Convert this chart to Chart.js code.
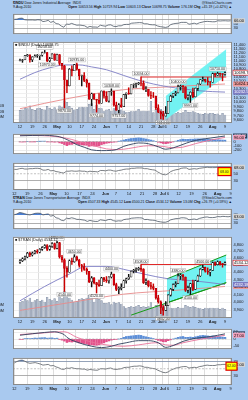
<!DOCTYPE html>
<html><head><meta charset="utf-8">
<script src="https://cdn.jsdelivr.net/npm/chart.js@4.4.0/dist/chart.umd.min.js"></script>
<style>
html,body{margin:0;padding:0;}
body{width:248px;height:400px;overflow:hidden;background:#a9c9ef;position:relative;font-family:"Liberation Sans",Arial,sans-serif;}
canvas{position:absolute;left:0;}
.t{position:absolute;white-space:nowrap;font-size:3.5px;line-height:4px;color:#111;}
</style></head><body>
<div class="t" style="left:13px;top:0.5px"><b>$INDU</b> Dow Jones Industrial Average&nbsp; INDX</div>
<div class="t" style="right:16px;top:0.5px">@StockCharts.com</div>
<div class="t" style="left:13px;top:5px">9-Aug-2010</div>
<div class="t" style="right:16px;top:5px"><b>Open</b> 10653.56 <b>High</b> 10719.94 <b>Low</b> 10603.13 <b>Close</b> 10698.75 <b>Volume</b> 176.1M <b>Chg</b> +45.19 (+0.42%) ▲</div>
<div class="t" style="left:13px;top:195.5px"><b>$TRAN</b> Dow Jones Transportation Average&nbsp; INDX</div>
<div class="t" style="right:16px;top:195.5px">@StockCharts.com</div>
<div class="t" style="left:13px;top:200px">9-Aug-2010</div>
<div class="t" style="right:16px;top:200px"><b>Open</b> 4507.33 <b>High</b> 4545.12 <b>Low</b> 4500.21 <b>Close</b> 4534.12 <b>Volume</b> 13.0M <b>Chg</b> +26.79 (+0.59%) ▲</div>
<script>
// ---------- categories / tick labels ----------
const dates = ['Apr 12','Apr 13','Apr 14','Apr 15','Apr 16','Apr 19','Apr 20','Apr 21','Apr 22','Apr 23','Apr 26','Apr 27','Apr 28','Apr 29','Apr 30','May 3','May 4','May 5','May 6','May 7','May 10','May 11','May 12','May 13','May 14','May 17','May 18','May 19','May 20','May 21','May 24','May 25','May 26','May 27','May 28','Jun 1','Jun 2','Jun 3','Jun 4','Jun 7','Jun 8','Jun 9','Jun 10','Jun 11','Jun 14','Jun 15','Jun 16','Jun 17','Jun 18','Jun 21','Jun 22','Jun 23','Jun 24','Jun 25','Jun 28','Jun 29','Jun 30','Jul 1','Jul 2','Jul 6','Jul 7','Jul 8','Jul 9','Jul 12','Jul 13','Jul 14','Jul 15','Jul 16','Jul 19','Jul 20','Jul 21','Jul 22','Jul 23','Jul 26','Jul 27','Jul 28','Jul 29','Jul 30','Aug 2','Aug 3','Aug 4','Aug 5','Aug 6','Aug 9'];
const xTickIdx  = [0,5,10,15,20,25,30,35,39,44,49,54,57,59,63,68,73,78,83];
const xTickText = ['12','19','26','May','10','17','24','Jun','7','14','21','28','Jul','6','12','19','26','Aug','9'];

// ---------- $INDU ----------
const induOpen  = [10997,11006,11019,11123,11145,11019,11092,11117,11125,11134,11204,11205,10992,11045,11167,11009,11152,10927,10868,10520,10380,10785,10748,10897,10783,10620,10626,10511,10444,10068,10193,10067,10044,9974,10259,10137,10024,10250,10255,9932,9816,9940,9899,10173,10211,10191,10405,10409,10434,10451,10442,10294,10298,10153,10144,10139,9870,9774,9733,9686,9744,10018,10139,10198,10216,10363,10367,10359,10098,10154,10230,10121,10322,10425,10525,10538,10498,10467,10466,10674,10636,10680,10675,10654];
const induHigh  = [11034,11030,11124,11155,11147,11096,11143,11153,11140,11218,11258,11206,11080,11175,11171,11166,11152,10927,10879,10520,10800,10870,10905,10935,10783,10640,10700,10540,10444,10210,10194,10067,10200,10260,10260,10240,10252,10308,10255,10000,9967,10090,10173,10213,10335,10405,10428,10445,10462,10594,10500,10360,10298,10245,10224,10139,9940,9800,9790,9900,10018,10160,10200,10250,10400,10400,10390,10359,10170,10240,10330,10330,10430,10530,10590,10545,10580,10490,10690,10690,10710,10690,10675,10720];
const induLow   = [10990,10955,11019,11105,10960,10973,11092,11080,11022,11110,11190,10970,10965,11045,11005,11009,10887,10780,9870,10221,10380,10620,10748,10760,10530,10380,10480,10350,10060,9920,10060,9774,9960,9974,10093,10010,10000,10156,9910,9814,9757,9880,9899,10080,10180,10190,10335,10340,10410,10380,10285,10240,10135,10080,10105,9835,9760,9622,9614,9686,9744,10018,10100,10150,10216,10280,10220,10075,10050,9991,10100,10121,10270,10410,10490,10470,10400,10350,10466,10600,10630,10610,10500,10640];
const induClose = [11006,11019,11123,11145,11019,11092,11117,11125,11134,11204,11205,10992,11045,11167,11009,11152,10927,10868,10520,10380,10785,10748,10897,10783,10620,10626,10511,10444,10068,10193,10067,10044,9974,10259,10137,10024,10250,10255,9932,9816,9940,9899,10173,10211,10191,10405,10409,10434,10451,10442,10294,10298,10153,10144,10139,9870,9774,9733,9686,9744,10018,10139,10198,10216,10363,10367,10359,10098,10154,10230,10121,10322,10425,10525,10538,10498,10467,10466,10674,10636,10680,10675,10654,10699];
const induVolume = [1100,1150,1300,1250,1500,1200,1100,1250,1300,1200,1150,1450,1300,1200,1350,1150,1500,1400,1950,1800,1450,1300,1150,1200,1350,1400,1350,1400,1650,1700,1200,1550,1300,1250,1000,1150,1200,1050,1250,1150,1250,1150,1050,900,950,1000,1000,1050,1200,1000,1050,1000,1050,1900,900,1200,1150,1200,1050,900,950,900,800,850,950,850,900,1100,950,950,1000,900,850,800,750,850,800,850,850,750,800,700,850,700];
const induMa50Idx  = [0,6,12,18,24,29,35,42,48,54,60,66,72,78,83];
const induMa50     = [10538,10700,10817,10889,10889,10841,10770,10630,10515,10424,10356,10311,10266,10244,10233];
const induMa200Idx = [0,20,42,60,83];
const induMa200    = [9850,10089,10289,10356,10424];
const induRsi = [73,74,78,79,71,70,70,70,69,71,70,62,64,68,58,63,52,50,40,34,50,48,53,48,44,45,43,41,33,38,35,35,34,44,41,39,45,46,39,37,41,41,47,48,48,54,55,56,57,56,51,51,47,46,46,40,37,35,33,36,47,51,53,54,58,58,58,49,51,54,50,56,59,62,63,62,61,61,66,65,66,66,65,66];
const induMacdIdx = [0,5,10,14,16,18,20,23,26,29,33,37,39,42,46,48,50,52,56,59,62,66,69,73,77,81,83];
const induMacd    = [133,140,144,128,110,70,20,-70,-130,-190,-208,-203,-185,-110,-50,-32,-35,-50,-120,-176,-145,-64,-5,48,80,112,128];
const induSigIdx  = [0,6,12,17,21,25,29,35,40,44,48,52,55,58,62,66,71,77,83];
const induSig     = [144,140,128,95,48,-20,-80,-168,-184,-160,-120,-96,-98,-112,-144,-128,-48,32,96];
const induHist = [-10,-12,-5,0,-8,-5,-2,0,2,8,10,-5,-8,-2,-15,-8,-30,-45,-70,-95,-70,-65,-50,-55,-70,-75,-80,-85,-110,-100,-105,-105,-100,-70,-55,-40,-30,-20,-15,-8,5,20,35,50,60,70,75,80,85,80,70,60,46,35,20,0,-15,-30,-45,-50,-40,-25,-5,10,30,45,55,50,50,55,55,60,62,62,60,55,50,48,50,45,42,38,35,32];
const induLower = [62,62,64,65,63,63,64,64,65,65,64,60,60,62,58,59,56,55,53,52,57,57,58,57,57,58,57,57,55,57,56,56,55,59,59,58,60,60,58,57,59,60,62,63,63,65,65,66,66,66,64,64,62,61,60,55,51,48,47,50,56,59,61,62,65,66,66,62,63,64,63,65,66,67,68,67,67,67,68,68,68,68,68,68];
const induPriceTicks = [9600,9700,9800,9900,10000,10100,10200,10300,10400,10500,10600,10700,10800,10900,11000,11100,11200,11300,11400];
const induVolTicks = [500,1000,1500];
const induResist = 10594;
const induChanIdx = [59,83.5];
const induChanUp  = [10133,11280];
const induChanLo  = [9614,10630];
const induNotesIdx  = [10,11,18,23,31,37,40,49,58,64,69,80];
const induNotesSide = ['H','L','L','H','L','H','L','H','L','H','L','H'];

// ---------- $TRAN ----------
const tranOpen  = [4540,4562,4590,4617,4673,4645,4673,4702,4687,4730,4758,4787,4730,4773,4816,4744,4831,4617,4576,4453,4400,4562,4548,4617,4576,4494,4480,4440,4413,4269,4321,4257,4231,4218,4321,4295,4282,4334,4373,4231,4168,4180,4193,4282,4308,4334,4413,4426,4440,4453,4440,4257,4282,4218,4206,4180,4056,4007,3935,3900,3959,4093,4168,4231,4244,4347,4360,4334,4155,4193,4244,4168,4282,4347,4440,4467,4413,4400,4426,4534,4507,4548,4520,4507];
const tranHigh  = [4580,4605,4630,4685,4690,4690,4715,4725,4740,4770,4800,4800,4785,4830,4825,4850,4835,4640,4590,4480,4575,4600,4650,4630,4580,4510,4520,4460,4413,4340,4325,4260,4290,4330,4330,4340,4340,4400,4373,4250,4200,4240,4290,4320,4370,4420,4440,4460,4470,4508,4450,4310,4282,4260,4240,4180,4090,4020,3960,4010,4100,4180,4240,4270,4380,4375,4370,4334,4210,4250,4290,4290,4360,4450,4500,4470,4460,4440,4545,4545,4560,4555,4525,4545];
const tranLow   = [4525,4550,4575,4605,4620,4630,4660,4670,4675,4715,4745,4710,4715,4760,4730,4735,4600,4540,4140,4330,4400,4510,4540,4560,4470,4410,4425,4370,4255,4200,4240,4120,4205,4218,4270,4260,4250,4320,4220,4150,4110,4160,4193,4250,4300,4334,4390,4400,4425,4410,4245,4230,4200,4170,4160,4040,3990,3860,3842,3900,3959,4080,4150,4200,4244,4300,4290,4140,4120,4100,4150,4168,4270,4340,4430,4400,4370,4350,4426,4490,4500,4500,4470,4500];
const tranClose = [4562,4590,4617,4673,4645,4673,4702,4687,4730,4758,4787,4730,4773,4816,4744,4831,4617,4576,4453,4400,4562,4548,4617,4576,4494,4480,4440,4413,4269,4321,4257,4231,4218,4321,4295,4282,4334,4373,4231,4168,4180,4193,4282,4308,4334,4413,4426,4440,4453,4440,4257,4282,4218,4206,4180,4056,4007,3935,3900,3959,4093,4168,4231,4244,4347,4360,4334,4155,4193,4244,4168,4282,4347,4440,4467,4413,4400,4426,4534,4507,4548,4520,4507,4534];
const tranVolume = [230,250,280,260,300,240,260,280,250,270,240,310,280,260,290,250,320,290,400,360,300,270,240,250,280,290,280,300,340,350,240,320,280,260,220,220,230,200,240,220,230,210,170,150,160,170,160,170,190,160,170,160,170,230,150,190,190,200,210,160,170,150,140,150,160,150,150,190,170,160,170,160,150,140,130,150,140,150,150,140,150,130,150,130];
const tranMa50Idx  = [0,10,20,27,35,42,50,60,70,83];
const tranMa50     = [4020,4206,4375,4481,4481,4440,4375,4309,4283,4232];
const tranMa200Idx = [0,20,42,63,83];
const tranMa200    = [3900,3996,4105,4155,4206];
const tranRsi = [71,75,82,80,76,72,70,74,78,79,78,70,73,75,64,68,56,53,44,42,54,52,56,53,48,48,46,44,38,43,40,38,38,46,44,42,47,48,42,39,41,40,47,49,50,54,55,56,56,55,47,48,45,44,43,38,36,34,34,38,46,49,52,52,56,56,54,46,48,50,47,53,56,59,60,57,57,58,62,61,63,62,61,63];
const tranMacdIdx = [0,5,10,14,16,18,19,23,29,33,37,40,43,48,52,56,59,62,66,71,77,83];
const tranMacd    = [27,38,47,52,45,30,12,-22,-52,-62,-52,-37,-27,-12,-12,-27,-60,-47,-17,5,17,37];
const tranSigIdx  = [0,7,14,18,23,30,37,42,48,55,59,62,66,73,83];
const tranSig     = [32,40,50,52,12,-27,-47,-52,-42,-27,-42,-45,-27,-2,27];
const tranHist = [-3,-2,2,5,3,5,7,6,8,9,10,6,7,8,5,6,-2,-8,-15,-25,-20,-22,-18,-22,-28,-30,-33,-36,-45,-42,-44,-45,-42,-32,-28,-20,-14,-8,-5,-2,0,5,12,18,20,22,24,26,28,26,20,16,12,8,4,-4,-10,-15,-20,-20,-12,-6,0,6,12,16,18,12,12,14,12,16,20,24,26,24,22,20,22,20,18,16,14,12];
const tranLower = [66,70,73,74,71,67,65,66,67,65,63,60,61,62,58,59,55,53,49,48,52,51,53,51,50,50,49,49,46,48,47,46,46,50,50,49,51,52,49,48,49,50,53,54,54,56,57,57,58,57,54,54,52,51,50,46,43,40,39,41,46,49,52,53,55,56,56,52,53,54,53,56,57,59,60,59,59,59,61,61,62,62,61,62];
const tranPriceTicks = [3900,4000,4100,4200,4300,4400,4500,4600,4700,4800];
const tranVolTicks = [100,200];
const tranResist = 4508;
const tranChanIdx = [59.5,83.5];
const tranChanUp  = [4308,4645];
const tranChanLo  = [3995,4257];
const tranTrendIdx = [45,83.5];
const tranTrendLo  = [3842,4257];
const tranNotesIdx  = [15,18,22,31,37,49,58,64,69,74];
const tranNotesSide = ['H','L','H','L','H','H','L','H','L','H'];

// ---------- helpers ----------
const FONT = '"Liberation Sans", Arial, sans-serif';
const N = dates.length;
const pts = (idx, vals) => idx.map((x, k) => ({x, y: vals[k]}));
const series = vals => vals.map((y, x) => ({x, y}));

function mkCanvas(top, h) {
  const c = document.createElement('canvas');
  c.width = 248; c.height = h; c.style.top = top + 'px';
  document.body.appendChild(c);
  return c;
}
function xCfg(show) {
  return {
    type: 'linear', min: -0.5, max: N - 0.5, bounds: 'data',
    afterBuildTicks: s => { s.ticks = xTickIdx.map(v => ({value: v})); },
    grid: {color: '#d6d6d6', lineWidth: 0.8, drawTicks: false},
    border: {display: false},
    ticks: {
      display: show, autoSkip: false, maxRotation: 0, minRotation: 0, padding: 1.5, color: '#1a1a1a',
      font: c => {
        const k = xTickIdx.indexOf(c.tick ? c.tick.value : -1);
        const t = k >= 0 ? xTickText[k] : '';
        return {size: 4, family: FONT, weight: /[A-Za-z]/.test(t) ? 'bold' : 'normal'};
      },
      callback: v => { const k = xTickIdx.indexOf(v); return k >= 0 ? xTickText[k] : ''; }
    },
    afterFit: s => { s.height = show ? 7 : 0; }
  };
}
function yRight(extra) {
  const base = {
    position: 'right', bounds: 'data',
    grid: {color: '#e6e6e6', lineWidth: 0.8, drawTicks: false},
    border: {display: false},
    ticks: {autoSkip: false, padding: 1.5, color: '#1a1a1a', font: {size: 4, family: FONT}},
    afterFit: s => { s.width = 16; }
  };
  return Object.assign(base, extra);
}
function opts(scales, padLeft) {
  return {
    responsive: false, animation: false, events: [], devicePixelRatio: 1,
    layout: {padding: {left: padLeft, right: 0, top: 0, bottom: 0}},
    plugins: {legend: {display: false}, tooltip: {enabled: false}},
    scales
  };
}
const frame = {
  id: 'frame',
  beforeDraw(ch) {
    const a = ch.chartArea, ctx = ch.ctx;
    ctx.save(); ctx.fillStyle = '#ffffff';
    ctx.fillRect(a.left, a.top, a.right - a.left, a.bottom - a.top); ctx.restore();
  },
  afterDraw(ch) {
    const a = ch.chartArea, ctx = ch.ctx;
    ctx.save(); ctx.strokeStyle = '#8a8a8a'; ctx.lineWidth = 1;
    ctx.strokeRect(a.left + 0.5, a.top + 0.5, a.right - a.left - 1, a.bottom - a.top - 1); ctx.restore();
  }
};
function tagsPlugin(axisId, tags) {
  return {
    id: 'tags',
    afterDraw(ch) {
      const s = ch.scales[axisId], a = ch.chartArea, ctx = ch.ctx;
      ctx.save(); ctx.font = '4px ' + FONT; ctx.textBaseline = 'middle';
      tags.forEach(t => {
        const y = s.getPixelForValue(t.value);
        const w = ctx.measureText(t.text).width + 2;
        ctx.fillStyle = t.bg; ctx.fillRect(a.right + 1, y - 2.5, w, 5);
        if (t.border) { ctx.strokeStyle = t.border; ctx.lineWidth = 0.6; ctx.strokeRect(a.right + 1, y - 2.5, w, 5); }
        ctx.fillStyle = t.fg; ctx.fillText(t.text, a.right + 2, y + 0.3);
      });
      ctx.restore();
    }
  };
}
function notesPlugin(idx, side, hi, lo) {
  return {
    id: 'notes',
    afterDatasetsDraw(ch) {
      const xs = ch.scales.x, ys = ch.scales.y, ctx = ch.ctx;
      ctx.save(); ctx.font = '3.6px ' + FONT; ctx.textAlign = 'center'; ctx.textBaseline = 'middle';
      idx.forEach((i, k) => {
        const v = side[k] === 'H' ? hi[i] : lo[i];
        const x = xs.getPixelForValue(i);
        const y = ys.getPixelForValue(v) + (side[k] === 'H' ? -3.2 : 3.2);
        const txt = v.toFixed(2);
        const w = ctx.measureText(txt).width + 2;
        ctx.fillStyle = 'rgba(255,255,255,0.9)'; ctx.fillRect(x - w / 2, y - 2, w, 4);
        ctx.strokeStyle = '#9a9a9a'; ctx.lineWidth = 0.4; ctx.strokeRect(x - w / 2, y - 2, w, 4);
        ctx.fillStyle = '#222'; ctx.fillText(txt, x, y + 0.2);
      });
      ctx.restore();
    }
  };
}
function legendPlugin(text) {
  return {
    id: 'plegend',
    afterDraw(ch) {
      const a = ch.chartArea, ctx = ch.ctx;
      ctx.save(); ctx.font = '3.8px ' + FONT; ctx.textBaseline = 'top';
      ctx.fillStyle = '#222'; ctx.fillText(text, a.left + 2, a.top + 1.5);
      ctx.restore();
    }
  };
}
function boxPlugin(value, text, dx0, dx1) {
  return {
    id: 'ybox',
    afterDraw(ch) {
      const a = ch.chartArea, ys = ch.scales.y, ctx = ch.ctx;
      const y = ys.getPixelForValue(value);
      const x0 = a.right + dx0, x1 = a.right + dx1;
      ctx.save();
      ctx.fillStyle = '#ffff00'; ctx.fillRect(x0, y - 4, x1 - x0, 8);
      ctx.strokeStyle = '#e00000'; ctx.lineWidth = 1.2; ctx.strokeRect(x0, y - 4, x1 - x0, 8);
      ctx.fillStyle = '#222'; ctx.font = '3.3px ' + FONT; ctx.textAlign = 'center'; ctx.textBaseline = 'middle';
      ctx.fillText(text, (x0 + x1) / 2, y + 0.2);
      ctx.restore();
    }
  };
}

function buildGroup(g) {
  const T = g.top;
  // ---- upper indicator (RSI) ----
  new Chart(mkCanvas(T + 10, 28), {
    type: 'line',
    data: {datasets: [{
      data: series(g.rsi), borderColor: '#4d5866', borderWidth: 0.8, pointRadius: 0,
      fill: {target: {value: 70}, above: '#4a7fd6', below: 'rgba(0,0,0,0)'}
    }]},
    options: opts({
      x: xCfg(false),
      y: yRight({min: 0, max: 100,
        afterBuildTicks: s => { s.ticks = [30, 50, 70].map(v => ({value: v})); },
        grid: {color: c => (c.tick && c.tick.value === 50) ? '#e4e4e4' : '#9a9a9a', lineWidth: 0.8, drawTicks: false}})
    }, 13),
    plugins: [frame, tagsPlugin('y', [{value: g.rsi[N - 1], text: g.rsi[N - 1].toFixed(2), bg: '#d4d4d4', fg: '#000'}])]
  });

  // ---- price panel ----
  const up = g.close.map((c, i) => c >= g.open[i]);
  const ds = [
    {type: 'bar', data: series(g.volume), yAxisID: 'vol', backgroundColor: '#b4bdcc', borderColor: '#7a869c', borderWidth: 0.4, borderSkipped: false, barThickness: 1.8, grouped: false, order: 10},
    {type: 'line', data: pts(g.chanIdx, g.chanUp), yAxisID: 'y', borderColor: g.chanEdge, borderWidth: g.chanEdgeW, pointRadius: 0, fill: false, order: 8},
    {type: 'line', data: pts(g.chanIdx, g.chanLo), yAxisID: 'y', borderColor: g.chanEdge, borderWidth: g.chanEdgeW, pointRadius: 0, fill: '-1', backgroundColor: '#72f2f2', order: 8}
  ];
  if (g.trendIdx) {
    ds.push({type: 'line', data: pts(g.trendIdx, g.trendLo), yAxisID: 'y', borderColor: '#159a15', borderWidth: 1, pointRadius: 0, order: 7});
  }
  ds.push(
    {type: 'line', data: pts(g.ma200Idx, g.ma200), yAxisID: 'y', borderColor: '#e88a8a', borderWidth: 0.9, pointRadius: 0, cubicInterpolationMode: 'monotone', order: 6},
    {type: 'line', data: pts(g.ma50Idx, g.ma50), yAxisID: 'y', borderColor: '#7d7dc4', borderWidth: 0.9, pointRadius: 0, cubicInterpolationMode: 'monotone', order: 5},
    {type: 'line', data: [{x: g.resistFrom, y: g.resist}, {x: N - 0.5, y: g.resist}], yAxisID: 'y', borderColor: '#e02828', borderWidth: 1.1, pointRadius: 0, order: 4},
    {type: 'bar', data: g.open.map((o, i) => ({x: i, y: [g.low[i], g.high[i]]})), yAxisID: 'y', backgroundColor: up.map(u => u ? '#111' : '#cc0000'), borderWidth: 0, barThickness: 0.8, grouped: false, order: 2},
    {type: 'bar', data: g.open.map((o, i) => ({x: i, y: [o, g.close[i]]})), yAxisID: 'y', backgroundColor: up.map(u => u ? '#ffffff' : '#e00012'), borderColor: up.map(u => u ? '#111' : '#b00000'), borderWidth: 0.6, borderSkipped: false, barThickness: 1.9, grouped: false, order: 1}
  );
  new Chart(mkCanvas(T + 38, 92), {
    type: 'bar',
    data: {datasets: ds},
    options: opts({
      x: xCfg(true),
      y: yRight({type: 'logarithmic', min: g.pMin, max: g.pMax,
        afterBuildTicks: s => { s.ticks = g.priceTicks.map(v => ({value: v})); },
        ticks: {autoSkip: false, padding: 1.5, color: '#1a1a1a', font: {size: 4, family: FONT}, callback: v => Number(v).toLocaleString('en-US')},
        grid: {color: '#ececec', lineWidth: 0.8, drawTicks: false}}),
      vol: {type: 'linear', position: 'left', min: 0, max: g.volMax, bounds: 'data',
        afterBuildTicks: s => { s.ticks = g.volTicks.map(v => ({value: v})); },
        ticks: {autoSkip: false, padding: 1, color: '#1a1a1a', font: {size: 3.8, family: FONT}, callback: g.volFmt},
        grid: {display: false}, border: {display: false},
        afterFit: s => { s.width = 13; }}
    }, 0),
    plugins: [frame, notesPlugin(g.notesIdx, g.notesSide, g.high, g.low), legendPlugin(g.legend), tagsPlugin('y', g.priceTags)]
  });

  // ---- MACD ----
  new Chart(mkCanvas(T + 130, 28), {
    type: 'bar',
    data: {datasets: [
      {type: 'bar', data: series(g.hist), backgroundColor: g.hist.map(v => v >= 0 ? '#5b8ed8' : '#e2508a'), barThickness: 1.8, grouped: false, order: 4},
      {type: 'line', data: [{x: -0.5, y: 0}, {x: N - 0.5, y: 0}], borderColor: '#9a9a9a', borderDash: [2, 1.5], borderWidth: 0.6, pointRadius: 0, order: 3},
      {type: 'line', data: pts(g.sigIdx, g.sig), borderColor: '#e8739a', borderWidth: 0.9, pointRadius: 0, cubicInterpolationMode: 'monotone', order: 2},
      {type: 'line', data: pts(g.macdIdx, g.macd), borderColor: '#2e3f5c', borderWidth: 0.9, pointRadius: 0, cubicInterpolationMode: 'monotone', order: 1}
    ]},
    options: opts({
      x: xCfg(false),
      y: yRight({min: g.mMin, max: g.mMax,
        afterBuildTicks: s => { s.ticks = g.mTicks.map(v => ({value: v})); }})
    }, 13),
    plugins: [frame, tagsPlugin('y', [
      {value: g.macd[g.macd.length - 1], text: g.macd[g.macd.length - 1].toFixed(2), bg: '#2e3f5c', fg: '#fff'},
      {value: g.sig[g.sig.length - 1], text: g.sig[g.sig.length - 1].toFixed(2), bg: '#f2a2bd', fg: '#000'}])]
  });

  // ---- lower indicator ----
  new Chart(mkCanvas(T + 159, 38), {
    type: 'line',
    data: {datasets: [
      {data: [{x: -0.5, y: 50}, {x: N - 0.5, y: 50}], borderColor: '#9a9a9a', borderDash: [2, 1.5], borderWidth: 0.6, pointRadius: 0},
      {data: series(g.lower), borderColor: '#5a5f66', borderWidth: 0.8, pointRadius: 0,
        fill: {target: {value: 70}, above: '#4a7fd6', below: 'rgba(0,0,0,0)'}}
    ]},
    options: opts({
      x: xCfg(true),
      y: yRight({min: 5, max: 80,
        afterBuildTicks: s => { s.ticks = [30, 50, 70].map(v => ({value: v})); },
        grid: {color: c => (c.tick && c.tick.value === 50) ? 'rgba(0,0,0,0)' : '#9a9a9a', lineWidth: 0.8, drawTicks: false}})
    }, 13),
    plugins: [frame,
      tagsPlugin('y', [{value: g.lower[N - 1], text: g.lower[N - 1].toFixed(2), bg: '#d4d4d4', fg: '#000'}]),
      boxPlugin(g.boxValue, g.lower[N - 1].toFixed(2), g.boxDx[0], g.boxDx[1])]
  });
}

buildGroup({
  top: 0, open: induOpen, high: induHigh, low: induLow, close: induClose, volume: induVolume,
  volMax: 7083, volTicks: induVolTicks, volFmt: v => v >= 1000 ? (v / 1000).toFixed(1) + 'B' : v + 'M',
  pMin: 9533, pMax: 11480, priceTicks: induPriceTicks,
  ma50Idx: induMa50Idx, ma50: induMa50, ma200Idx: induMa200Idx, ma200: induMa200,
  resist: induResist, resistFrom: 49,
  chanIdx: induChanIdx, chanUp: induChanUp, chanLo: induChanLo, chanEdge: '#72f2f2', chanEdgeW: 0.5,
  notesIdx: induNotesIdx, notesSide: induNotesSide,
  legend: '\u25A0 $INDU (Daily) 10698.75',
  priceTags: [
    {value: induMa200[induMa200.length - 1], text: '10424.11', bg: '#ee9a9a', fg: '#000'},
    {value: induMa50[induMa50.length - 1], text: '10232.57', bg: '#7d7dc4', fg: '#fff'},
    {value: induClose[N - 1], text: '10698.75', bg: '#ffffff', fg: '#000', border: '#d00000'}],
  rsi: induRsi,
  macdIdx: induMacdIdx, macd: induMacd, sigIdx: induSigIdx, sig: induSig, hist: induHist,
  mMin: -288, mMax: 176, mTicks: [-200, -100, 0, 100],
  lower: induLower, boxValue: 56, boxDx: [-14, -1]
});

buildGroup({
  top: 195, open: tranOpen, high: tranHigh, low: tranLow, close: tranClose, volume: tranVolume,
  volMax: 1214, volTicks: tranVolTicks, volFmt: v => v + 'M',
  pMin: 3807, pMax: 4919, priceTicks: tranPriceTicks,
  ma50Idx: tranMa50Idx, ma50: tranMa50, ma200Idx: tranMa200Idx, ma200: tranMa200,
  resist: tranResist, resistFrom: 49,
  chanIdx: tranChanIdx, chanUp: tranChanUp, chanLo: tranChanLo, chanEdge: '#159a15', chanEdgeW: 1,
  trendIdx: tranTrendIdx, trendLo: tranTrendLo,
  notesIdx: tranNotesIdx, notesSide: tranNotesSide,
  legend: '\u25A0 $TRAN (Daily) 4534.12',
  priceTags: [
    {value: tranMa200[tranMa200.length - 1], text: '4206.35', bg: '#ee9a9a', fg: '#000'},
    {value: tranMa50[tranMa50.length - 1], text: '4232.18', bg: '#7d7dc4', fg: '#fff'},
    {value: tranClose[N - 1], text: '4534.12', bg: '#ffffff', fg: '#000', border: '#d00000'}],
  rsi: tranRsi,
  macdIdx: tranMacdIdx, macd: tranMacd, sigIdx: tranSigIdx, sig: tranSig, hist: tranHist,
  mMin: -72.5, mMax: 72.5, mTicks: [-50, 0, 50],
  lower: tranLower, boxValue: 57, boxDx: [-6, 5]
});
</script>
</body></html>
